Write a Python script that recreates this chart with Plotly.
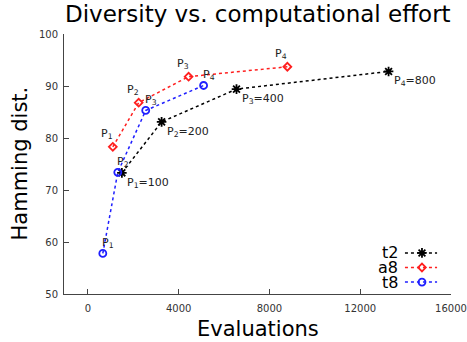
import plotly.graph_objects as go

# Data
t2_x = [1500, 3250, 6550, 13250]
t2_y = [73.3, 83.1, 89.4, 92.8]
t2_labels = ["P<sub>1</sub>=100", "P<sub>2</sub>=200", "P<sub>3</sub>=400", "P<sub>4</sub>=800"]

a8_x = [1100, 2240, 4440, 8790]
a8_y = [78.3, 86.8, 91.8, 93.7]
a8_labels = ["P<sub>1</sub>", "P<sub>2</sub>", "P<sub>3</sub>", "P<sub>4</sub>"]

t8_x = [660, 1320, 2550, 5100]
t8_y = [57.8, 73.4, 85.3, 90.1]
t8_labels = ["P<sub>1</sub>", "P<sub>2</sub>", "P<sub>3</sub>", "P<sub>4</sub>"]

x_ticks = [0, 4000, 8000, 12000, 16000]
y_ticks = [50, 60, 70, 80, 90, 100]

series_names = ["t2", "a8", "t8"]
colors = ["black", "#ff1f1f", "#1f1fff"]
symbols = ["asterisk-open", "diamond-open", "circle-open"]
sizes = [8, 6, 7]

FONT = "DejaVu Sans"

fig = go.Figure()
for name, xs, ys, c, s, sz in zip(series_names, [t2_x, a8_x, t8_x], [t2_y, a8_y, t8_y],
                                  colors, symbols, sizes):
    fig.add_trace(go.Scatter(
        x=xs, y=ys, name=name, mode="lines+markers", showlegend=False,
        line=dict(color=c, dash="dot", width=1.5),
        marker=dict(symbol=s, size=sz, color=c, line=dict(width=1.8, color=c)),
    ))

# legend (text left of sample, as in reference) on an overlay axis [0,1]
leg_rows = [0.158, 0.102, 0.046]
for name, c, s, sz, yr in zip(series_names, colors, symbols, sizes, leg_rows):
    fig.add_trace(go.Scatter(
        x=[0.881, 0.964], y=[yr, yr], xaxis="x2", yaxis="y2", mode="lines",
        line=dict(color=c, dash="dot", width=1.5), showlegend=False, hoverinfo="skip"))
    fig.add_trace(go.Scatter(
        x=[0.925], y=[yr], xaxis="x2", yaxis="y2", mode="markers",
        marker=dict(symbol=s, size=sz, color=c, line=dict(width=1.8, color=c)),
        showlegend=False, hoverinfo="skip"))

ann = []
for x, y, t in zip(t2_x, t2_y, t2_labels):
    ann.append(dict(x=x, y=y, text=t, showarrow=False, xanchor="left", yanchor="top",
                    xshift=3, yshift=-1, font=dict(family=FONT, size=11, color="#222")))
for x, y, t in zip(a8_x, a8_y, a8_labels):
    ann.append(dict(x=x, y=y, text=t, showarrow=False, xanchor="center", yanchor="bottom",
                    xshift=-6, yshift=4, font=dict(family=FONT, size=11, color="#222")))
for x, y, t in zip(t8_x, t8_y, t8_labels):
    ann.append(dict(x=x, y=y, text=t, showarrow=False, xanchor="center", yanchor="bottom",
                    xshift=5, yshift=1, font=dict(family=FONT, size=11, color="#222")))
for name, yr in zip(series_names, leg_rows):
    ann.append(dict(x=0.869, y=yr, xref="paper", yref="paper", text=name, showarrow=False,
                    xanchor="right", yanchor="middle",
                    font=dict(family=FONT, size=16, color="black")))
# axis titles
ann.append(dict(x=0.501, y=-0.135, xref="paper", yref="paper", text="Evaluations", showarrow=False,
                xanchor="center", yanchor="middle", font=dict(family=FONT, size=21, color="black")))
ann.append(dict(x=-0.115, y=0.504, xref="paper", yref="paper", text="Hamming dist.", showarrow=False,
                xanchor="center", yanchor="middle", textangle=-90,
                font=dict(family=FONT, size=21, color="black")))

fig.update_layout(
    width=467, height=342,
    margin=dict(l=64, r=16, t=34, b=48, autoexpand=False),
    paper_bgcolor="white", plot_bgcolor="white",
    font=dict(family=FONT, color="#222"),
    title=dict(text="Diversity vs. computational effort", x=0.552, xanchor="center",
               y=0.958, yanchor="middle", font=dict(family=FONT, size=23, color="black")),
    annotations=ann,
    showlegend=False,
    xaxis2=dict(overlaying="x", range=[0, 1], visible=False, fixedrange=True),
    yaxis2=dict(overlaying="y", range=[0, 1], visible=False, fixedrange=True),
)
fig.layout.xaxis.update(
    range=[-1050, 16000], tickvals=x_ticks, ticktext=[str(v) for v in x_ticks],
    showgrid=False, zeroline=False, showline=True, linecolor="#444", linewidth=1,
    ticks="inside", ticklen=5, tickcolor="#444", automargin=False,
    tickfont=dict(family=FONT, size=10, color="#333"), ticklabelstandoff=5,
)
fig.layout.yaxis.update(
    range=[50, 100], tickvals=y_ticks, ticktext=[str(v) for v in y_ticks],
    showgrid=False, zeroline=False, showline=True, linecolor="#444", linewidth=1,
    ticks="inside", ticklen=5, tickcolor="#444", automargin=False,
    tickfont=dict(family=FONT, size=10, color="#333"), ticklabelstandoff=3,
)

fig.write_html("out.html", config=dict(displayModeBar=False),
               post_script="document.body.style.margin='0px';document.body.style.overflow='hidden';")
